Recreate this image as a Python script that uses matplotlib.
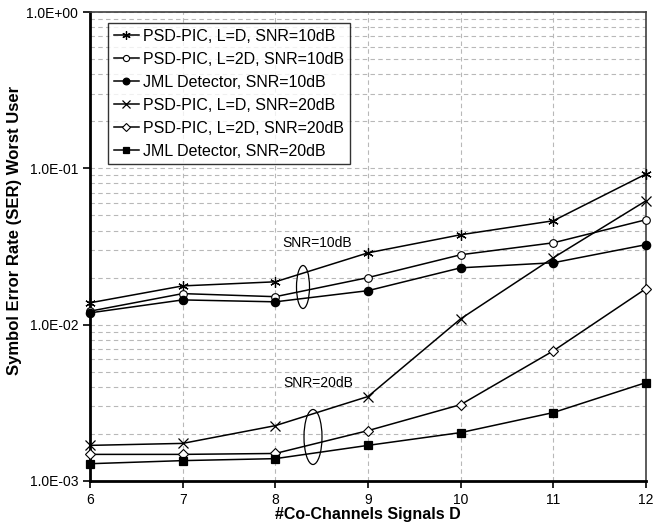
import matplotlib
matplotlib.use("Agg")
import matplotlib.pyplot as plt
from matplotlib.patches import Ellipse
from matplotlib.ticker import FixedLocator, FuncFormatter, LogLocator, NullFormatter

plt.rcParams['font.family'] = ['Liberation Sans', 'DejaVu Sans']

D = [6, 7, 8, 9, 10, 11, 12]
psd_LD_10 = [0.0138, 0.0177, 0.0188, 0.0288, 0.0376, 0.0462, 0.092]
psd_L2D_10 = [0.0122, 0.0158, 0.0151, 0.0200, 0.0280, 0.0334, 0.0469]
jml_10 = [0.0119, 0.0144, 0.0140, 0.0165, 0.0231, 0.0249, 0.0325]
psd_LD_20 = [0.00169, 0.00174, 0.00226, 0.00347, 0.0109, 0.0268, 0.062]
psd_L2D_20 = [0.00148, 0.00148, 0.00150, 0.00210, 0.00308, 0.0068, 0.0170]
jml_20 = [0.00129, 0.00135, 0.00139, 0.00169, 0.00204, 0.00274, 0.00426]

labels = ["PSD-PIC, L=D, SNR=10dB", "PSD-PIC, L=2D, SNR=10dB", "JML Detector, SNR=10dB",
          "PSD-PIC, L=D, SNR=20dB", "PSD-PIC, L=2D, SNR=20dB", "JML Detector, SNR=20dB"]
y_ticks = [1e-3, 1e-2, 1e-1, 1e0]

fig = plt.figure(figsize=(6.55, 5.26), dpi=100)
ax = fig.add_axes([90/655, 1-481/526, 556/655, 469/526])

styles = [
    dict(marker=(6, 2, 0), ms=7.5, mfc='black', mew=0.9),
    dict(marker='o', ms=5.5, mfc='white', mew=0.8),
    dict(marker='o', ms=6, mfc='black', mew=0.9),
    dict(marker='x', ms=6.5, mfc='black', mew=0.9),
    dict(marker='D', ms=5.5, mfc='white', mew=0.8),
    dict(marker='s', ms=5.5, mfc='black', mew=0.9),
]
series = [psd_LD_10, psd_L2D_10, jml_10, psd_LD_20, psd_L2D_20, jml_20]
for s, lab, st in zip(series, labels, styles):
    ax.plot(D, s, color='black', lw=1.1, mec='black', label=lab, clip_on=False, zorder=3, **st)

ax.set_yscale('log')
ax.set_xlim(6, 12)
ax.set_ylim(1e-3, 1)
ax.set_xticks(D)
ax.yaxis.set_major_locator(FixedLocator(y_ticks))
ax.yaxis.set_major_formatter(FuncFormatter(lambda v, p: "%.1E" % v))
ax.yaxis.set_minor_locator(LogLocator(base=10, subs=range(2, 10)))
ax.yaxis.set_minor_formatter(NullFormatter())
ax.tick_params(axis='y', which='minor', length=0)
ax.tick_params(axis='both', which='major', direction='out', length=5, width=1.2, labelsize=10, colors='black')
ax.grid(True, which='both', axis='y', color='#b8b8b8', ls=(0, (4, 3)), lw=0.8)
ax.grid(True, which='major', axis='x', color='#b8b8b8', ls=(0, (4, 3)), lw=0.8)
ax.set_axisbelow(True)

for side in ['left', 'bottom']:
    ax.spines[side].set_linewidth(2.0)
    ax.spines[side].set_color('black')
for side in ['top', 'right']:
    ax.spines[side].set_linewidth(1.2)
    ax.spines[side].set_color('#404040')

ax.set_xlabel("#Co-Channels Signals D", fontsize=11.5, fontweight='bold', labelpad=0)
ax.set_ylabel("Symbol Error Rate (SER) Worst User", fontsize=12, fontweight='bold', labelpad=3)
ax.yaxis.set_label_coords(-0.122, 0.535)

ax.add_patch(Ellipse((213/556, 194/469), 13/556, 43/469, transform=ax.transAxes,
                     fill=False, ec='black', lw=0.9, zorder=4))
ax.add_patch(Ellipse((223/556, 44/469), 18/556, 55/469, transform=ax.transAxes,
                     fill=False, ec='black', lw=0.9, zorder=4))
ax.text(8.45, 0.0334, "SNR=10dB", fontsize=10, ha='center', va='center')
ax.text(8.46, 0.00426, "SNR=20dB", fontsize=10, ha='center', va='center')

leg = ax.legend(loc='upper left', bbox_to_anchor=(18/556, 1-11/469), fontsize=11.5,
                frameon=True, fancybox=False, edgecolor='black', handlelength=1.6,
                handletextpad=0.25, borderpad=0.35, labelspacing=0.5, borderaxespad=0,
                markerscale=0.8)
leg.get_frame().set_linewidth(1.0)

fig.savefig("out.png", dpi=100)
